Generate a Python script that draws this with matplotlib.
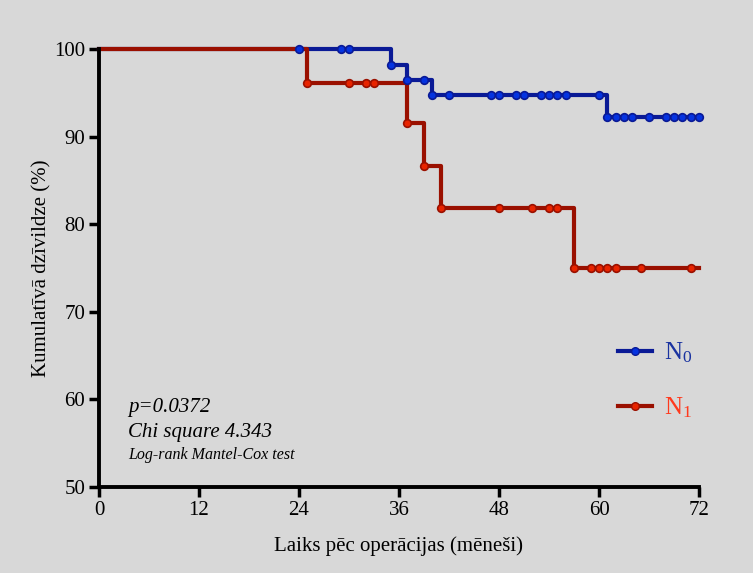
import numpy as np
import matplotlib.pyplot as plt
from matplotlib.lines import Line2D

plt.rcParams['font.family'] = ['Liberation Serif', 'DejaVu Serif']
plt.rcParams['mathtext.fontset'] = 'custom'
plt.rcParams['mathtext.rm'] = 'Liberation Serif'

# N0 group: step curve (time, survival %) and the points marked on it
n0_step_t = [0, 35, 37, 40, 61, 72]
n0_step_s = [100, 98.2, 96.5, 94.7, 92.2, 92.2]
n0_mark_t = [24, 29, 30, 35, 37, 39, 40, 42, 47, 48, 50, 51, 53, 54, 55, 56, 60,
             61, 62, 63, 64, 66, 68, 69, 70, 71, 72]
n0_mark_s = [100, 100, 100, 98.2, 96.5, 96.5, 94.7, 94.7, 94.7, 94.7, 94.7, 94.7,
             94.7, 94.7, 94.7, 94.7, 94.7,
             92.2, 92.2, 92.2, 92.2, 92.2, 92.2, 92.2, 92.2, 92.2, 92.2]

# N1 group
n1_step_t = [0, 25, 37, 39, 41, 57, 72]
n1_step_s = [100, 96.1, 91.5, 86.7, 81.9, 75.0, 75.0]
n1_mark_t = [25, 30, 32, 33, 37, 39, 41, 48, 52, 54, 55, 57, 59, 60, 61, 62, 65, 71]
n1_mark_s = [96.1, 96.1, 96.1, 96.1, 91.5, 86.7, 81.9, 81.9, 81.9, 81.9, 81.9,
             75.0, 75.0, 75.0, 75.0, 75.0, 75.0, 75.0]

x_ticks = [0, 12, 24, 36, 48, 60, 72]
y_ticks = [50, 60, 70, 80, 90, 100]

bg = '#d8d8d8'
blue_line, blue_fill = '#0a1a96', '#0533e0'
red_line, red_fill = '#9a1000', '#e82400'

fig = plt.figure(figsize=(7.53, 5.73), dpi=100, facecolor=bg)
ax = fig.add_axes([99/753, 1-487/573, 600/753, 438/573], facecolor=bg)

ax.step(n0_step_t, n0_step_s, where='post', color=blue_line, lw=3, zorder=3,
        clip_on=False)
ax.step(n1_step_t, n1_step_s, where='post', color=red_line, lw=3, zorder=3.1,
        clip_on=False)
ax.plot(n0_mark_t, n0_mark_s, 'o', ms=5.5, mfc=blue_fill, mec=blue_line,
        mew=1.2, zorder=4, clip_on=False)
ax.plot(n1_mark_t, n1_mark_s, 'o', ms=5.5, mfc=red_fill, mec=red_line,
        mew=1.2, zorder=4, clip_on=False)

ax.set_xlim(0, 72)
ax.set_ylim(50, 100)
ax.set_xticks(x_ticks)
ax.set_yticks(y_ticks)
for s in ['top', 'right']:
    ax.spines[s].set_visible(False)
for s in ['left', 'bottom']:
    ax.spines[s].set_linewidth(2.8)
    ax.spines[s].set_zorder(5)
ax.tick_params(width=2.5, length=7, labelsize=15, pad=3)

ax.set_xlabel('Laiks pēc operācijas (mēneši)', fontsize=15, labelpad=12)
ax.set_ylabel('Kumulatīvā dzīvildze (%)', fontsize=15, labelpad=2)

handles = [
    Line2D([], [], color=blue_line, lw=3, marker='o', ms=5.5, mfc=blue_fill,
           mec=blue_line),
    Line2D([], [], color=red_line, lw=3, marker='o', ms=5.5, mfc=red_fill,
           mec=red_line),
]
leg = ax.legend(handles, [r'$\mathregular{N_0}$', r'$\mathregular{N_1}$'],
                loc='center left', bbox_to_anchor=(0.865, 0.243), frameon=False,
                fontsize=18, handlelength=1.35, labelspacing=1.22,
                handletextpad=0.5, borderpad=0, borderaxespad=0)
leg.get_texts()[0].set_color('#1a33a0')
leg.get_texts()[1].set_color('#ff3a1e')

ax.text(0.048, 0.182, 'p=0.0372', transform=ax.transAxes, fontsize=15,
        style='italic', va='center')
ax.text(0.048, 0.125, 'Chi square 4.343', transform=ax.transAxes, fontsize=15,
        style='italic', va='center')
ax.text(0.048, 0.074, 'Log-rank Mantel-Cox test', transform=ax.transAxes,
        fontsize=11.5, style='italic', va='center')

fig.savefig('out.png', dpi=100, facecolor=bg)
